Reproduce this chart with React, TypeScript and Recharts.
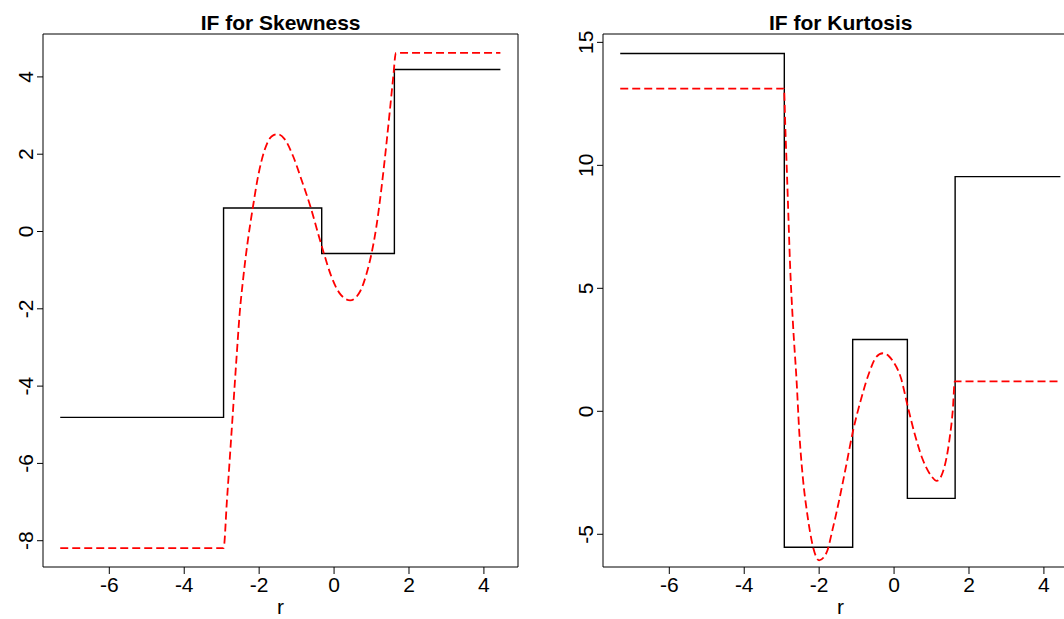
import React from "react";
import { LineChart, Line, XAxis, YAxis, ReferenceArea, Label } from "recharts";

const FONT = '"Liberation Sans", Arial, Helvetica, sans-serif';

// shared x axis (r)
const X_TICKS = [-6, -4, -2, 0, 2, 4];
const X_DOMAIN: [number, number] = [-7.77, 4.91];

// left panel: skewness
const SKEW_Y_TICKS = [-8, -6, -4, -2, 0, 2, 4];
const SKEW_Y_DOMAIN: [number, number] = [-8.68, 5.11];

const skewStepR = [-7.31, -2.95, -0.33, 1.61, 4.44];
const skewStepIF = [-4.81, 0.61, -0.57, 4.19, 4.19];

const skewCurveR = [
  -7.31, -2.95, -2.86, -2.72, -2.59, -2.52, -2.43, -2.3, -2.17, -2.03, -1.85,
  -1.67, -1.51, -1.32, -1.09, -0.87, -0.62, -0.43, -0.27, -0.07, 0.15, 0.43,
  0.69, 0.87, 1.0, 1.13, 1.27, 1.4, 1.51, 1.58, 1.65, 4.44,
];
const skewCurveIF = [
  -8.19, -8.19, -6.96, -4.95, -3.07, -2.12, -1.25, -0.22, 0.61, 1.42, 2.12,
  2.46, 2.52, 2.39, 1.94, 1.34, 0.61, -0.04, -0.57, -1.17, -1.6, -1.78,
  -1.56, -1.08, -0.57, 0.13, 1.16, 2.29, 3.33, 4.0, 4.62, 4.62,
];

// right panel: kurtosis
const KURT_Y_TICKS = [-5, 0, 5, 10, 15];
const KURT_Y_DOMAIN: [number, number] = [-6.33, 15.34];

const kurtStepR = [-7.31, -2.93, -1.105, 0.355, 1.63, 4.44];
const kurtStepIF = [14.55, -5.53, 2.92, -3.54, 9.54, 9.54];

const kurtCurveR = [
  -7.31, -2.94, -2.9, -2.86, -2.82, -2.78, -2.7, -2.6, -2.53, -2.44, -2.31,
  -2.17, -2.0, -1.8, -1.64, -1.46, -1.28, -1.105, -0.88, -0.66, -0.48, -0.3,
  -0.15, -0.04, 0.19, 0.36, 0.54, 0.76, 0.99, 1.14, 1.3, 1.48, 1.57, 1.62,
  4.44,
];
const kurtCurveIF = [
  13.12, 13.12, 11.4, 9.7, 7.9, 6.1, 3.6, 1.18, -0.86, -2.62, -4.25,
  -5.47, -6.06, -5.74, -4.79, -3.57, -2.22, -0.86, 0.5, 1.59, 2.2, 2.36,
  2.26, 2.06, 1.32, 0.23, -0.86, -1.94, -2.62, -2.83, -2.48, -1.13, 0.09, 1.22,
  1.22,
];

const zip = (xs: number[], ys: number[]) => xs.map((x, i) => ({ x, y: ys[i] }));

const PLOT_W = 475;

function YTick(props: any) {
  const { x, y, payload } = props;
  return (
    <text
      x={x}
      y={y}
      transform={`rotate(-90 ${x} ${y})`}
      textAnchor="middle"
      fontSize={21}
      fill="#000"
      fontFamily={FONT}
    >
      {payload.value}
    </text>
  );
}

function rLabel(props: any) {
  const vb = props.viewBox || {};
  return (
    <text
      x={vb.x + vb.width / 2}
      y={614}
      textAnchor="middle"
      fontSize={21}
      fill="#000"
      fontFamily={FONT}
    >
      r
    </text>
  );
}

function Panel({
  left,
  width,
  yAxisWidth,
  yDomain,
  yTicks,
  step,
  curve,
}: {
  left: number;
  width: number;
  yAxisWidth: number;
  yDomain: [number, number];
  yTicks: number[];
  step: { x: number; y: number }[];
  curve: { x: number; y: number }[];
}) {
  return (
    <div style={{ position: "absolute", left, top: 0 }}>
      <LineChart
        width={width}
        height={619}
        margin={{ top: 34, right: width - yAxisWidth - PLOT_W, bottom: 0, left: 0 }}
      >
        <XAxis
          type="number"
          dataKey="x"
          domain={X_DOMAIN}
          ticks={X_TICKS}
          allowDataOverflow
          interval={0}
          axisLine={false}
          tickLine={{ stroke: "#000" }}
          tickSize={7}
          tickMargin={3}
          tick={{ fontSize: 21, fill: "#000", fontFamily: FONT }}
          height={52}
        >
          <Label content={rLabel} />
        </XAxis>
        <YAxis
          type="number"
          dataKey="y"
          domain={yDomain}
          ticks={yTicks}
          allowDataOverflow
          interval={0}
          axisLine={false}
          tickLine={{ stroke: "#000" }}
          tickSize={6}
          tickMargin={4}
          tick={<YTick />}
          width={yAxisWidth}
        />
        <ReferenceArea
          x1={X_DOMAIN[0]}
          x2={X_DOMAIN[1]}
          y1={yDomain[0]}
          y2={yDomain[1]}
          fill="none"
          fillOpacity={0}
          stroke="#000"
          strokeWidth={1}
          ifOverflow="visible"
        />
        <Line
          data={step}
          dataKey="y"
          type="stepAfter"
          stroke="#000"
          strokeWidth={1.4}
          dot={false}
          activeDot={false}
          isAnimationActive={false}
        />
        <Line
          data={curve}
          dataKey="y"
          type="monotone"
          stroke="#ff0000"
          strokeWidth={1.8}
          strokeDasharray="8 4"
          dot={false}
          activeDot={false}
          isAnimationActive={false}
        />
      </LineChart>
    </div>
  );
}

export default function App() {
  return (
    <div
      style={{
        position: "absolute",
        left: 0,
        top: 0,
        width: 1064,
        height: 619,
        overflow: "hidden",
        background: "#fff",
        fontFamily: FONT,
      }}
    >
      <Panel
        left={0}
        width={540}
        yAxisWidth={43}
        yDomain={SKEW_Y_DOMAIN}
        yTicks={SKEW_Y_TICKS}
        step={zip(skewStepR, skewStepIF)}
        curve={zip(skewCurveR, skewCurveIF)}
      />
      <Panel
        left={540}
        width={560}
        yAxisWidth={63}
        yDomain={KURT_Y_DOMAIN}
        yTicks={KURT_Y_TICKS}
        step={zip(kurtStepR, kurtStepIF)}
        curve={zip(kurtCurveR, kurtCurveIF)}
      />
      <svg
        width={1064}
        height={619}
        style={{ position: "absolute", left: 0, top: 0, pointerEvents: "none" }}
      >
        <text x={280.6} y={30} textAnchor="middle" fontSize={21} fontWeight="bold" fontFamily={FONT} fill="#000">
          IF for Skewness
        </text>
        <text x={840.7} y={30} textAnchor="middle" fontSize={21} fontWeight="bold" fontFamily={FONT} fill="#000">
          IF for Kurtosis
        </text>
      </svg>
    </div>
  );
}
